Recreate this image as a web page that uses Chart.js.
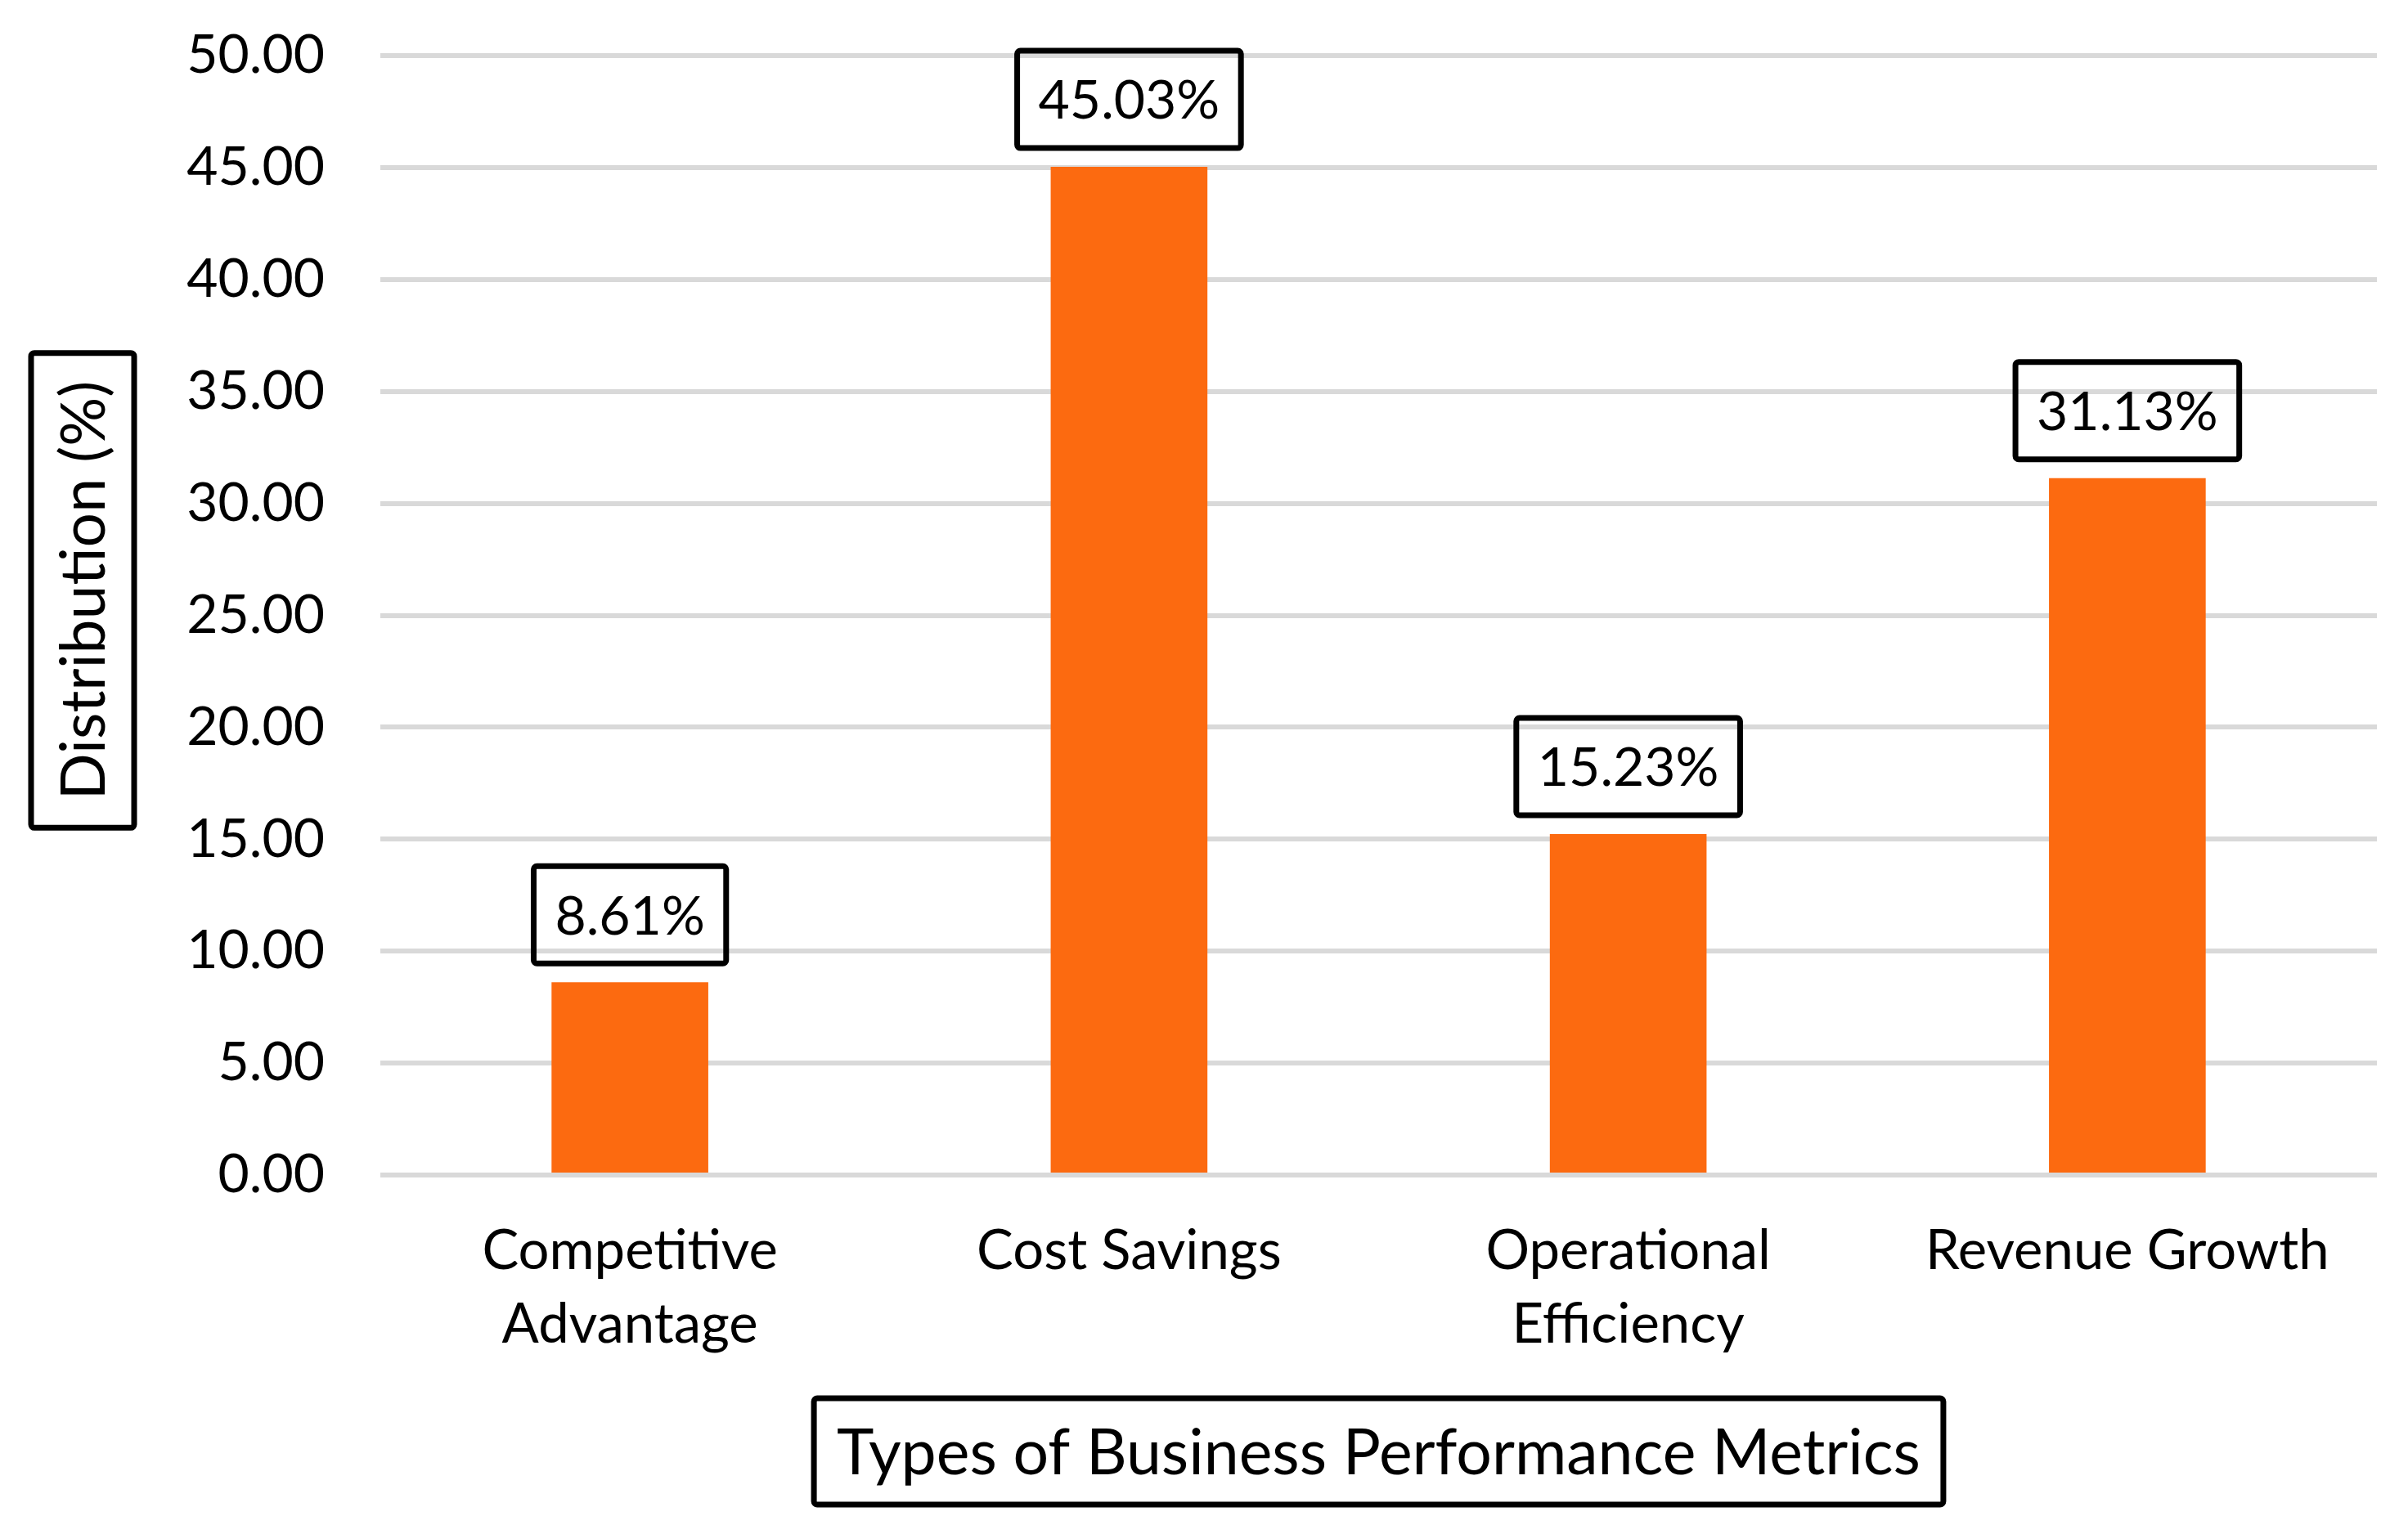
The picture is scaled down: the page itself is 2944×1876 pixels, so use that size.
<!DOCTYPE html>
<html><head><meta charset="utf-8">
<script src="https://cdn.jsdelivr.net/npm/chart.js@4/dist/chart.umd.min.js"></script>
<style>html,body{margin:0;padding:0;background:#fff;overflow:hidden}#wrap{width:2944px;height:1876px;position:relative}canvas{display:block}</style>
</head><body><div id="wrap"><canvas id="c" width="2944" height="1876"></canvas></div>
<script>
const categories = [["Competitive", "Advantage"], ["Cost Savings"], ["Operational", "Efficiency"], ["Revenue Growth"]];
const values = [8.61, 45.03, 15.23, 31.13];
const valueLabels = ["8.61%", "45.03%", "15.23%", "31.13%"];
const yMin = 0, yMax = 50, yStep = 5;
const xTitle = "Types of Business Performance Metrics";
const yTitle = "Distribution (%)";

const FONT = "Lato";
const BAR = "#FC6A10";

function boxedText(ctx, text, cx, cy, rot, padX, h, fontPx) {
  ctx.save();
  ctx.translate(cx, cy);
  ctx.rotate(rot);
  ctx.font = fontPx + "px " + FONT;
  const w = ctx.measureText(text).width + 2 * padX;
  ctx.lineWidth = 7;
  ctx.strokeStyle = "#000";
  ctx.beginPath();
  ctx.roundRect(-w / 2, -h / 2, w, h, 4);
  ctx.stroke();
  ctx.fillStyle = "#000";
  ctx.textAlign = "center";
  ctx.textBaseline = "alphabetic";
  ctx.fillText(text, 0, fontPx * 0.72 / 2);
  ctx.restore();
}

const boxesPlugin = {
  id: "boxes",
  afterDatasetsDraw(chart) {
    const ctx = chart.ctx;
    const meta = chart.getDatasetMeta(0);
    meta.data.forEach((bar, i) => {
      const h = 119;
      const cy = bar.y - 23 - h / 2;
      boxedText(ctx, valueLabels[i], bar.x, cy, 0, 26, h, 66);
    });
    const ca = chart.chartArea;
    boxedText(ctx, xTitle, (ca.left + ca.right) / 2, 1775, 0, 28, 130, 77);
    boxedText(ctx, yTitle, 101, 722, -Math.PI / 2, 34, 126, 75);
  }
};

function make() {
  new Chart(document.getElementById("c"), {
    type: "bar",
    data: {
      labels: categories,
      datasets: [{
        data: values,
        backgroundColor: BAR,
        borderWidth: 0,
        categoryPercentage: 1,
        barPercentage: 0.314
      }]
    },
    options: {
      responsive: false,
      devicePixelRatio: 1,
      animation: false,
      events: [],
      layout: { padding: { left: 0, right: 38, top: 68, bottom: 0 } },
      plugins: { legend: { display: false }, tooltip: { enabled: false } },
      scales: {
        x: {
          grid: { display: false, drawTicks: false },
          border: { display: false },
          ticks: {
            color: "#000",
            font: { family: FONT, size: 67, lineHeight: 1.35 },
            padding: 48,
            maxRotation: 0,
            autoSkip: false
          },
          afterFit(s) { s.height = 1876 - 1437; s.paddingLeft = 0; s.paddingRight = 0; }
        },
        y: {
          min: yMin, max: yMax,
          grid: { color: "#D9D9D9", lineWidth: 6, drawTicks: false },
          border: { display: false },
          ticks: {
            stepSize: yStep,
            color: "#000",
            font: { family: FONT, size: 66 },
            padding: 68,
            callback: v => Number(v).toFixed(2)
          },
          afterFit(s) { s.width = 465; s.paddingTop = 0; s.paddingBottom = 0; }
        }
      }
    },
    plugins: [boxesPlugin]
  });
}
document.fonts.load("65px " + FONT).then(make, make);
</script>
</body></html>
